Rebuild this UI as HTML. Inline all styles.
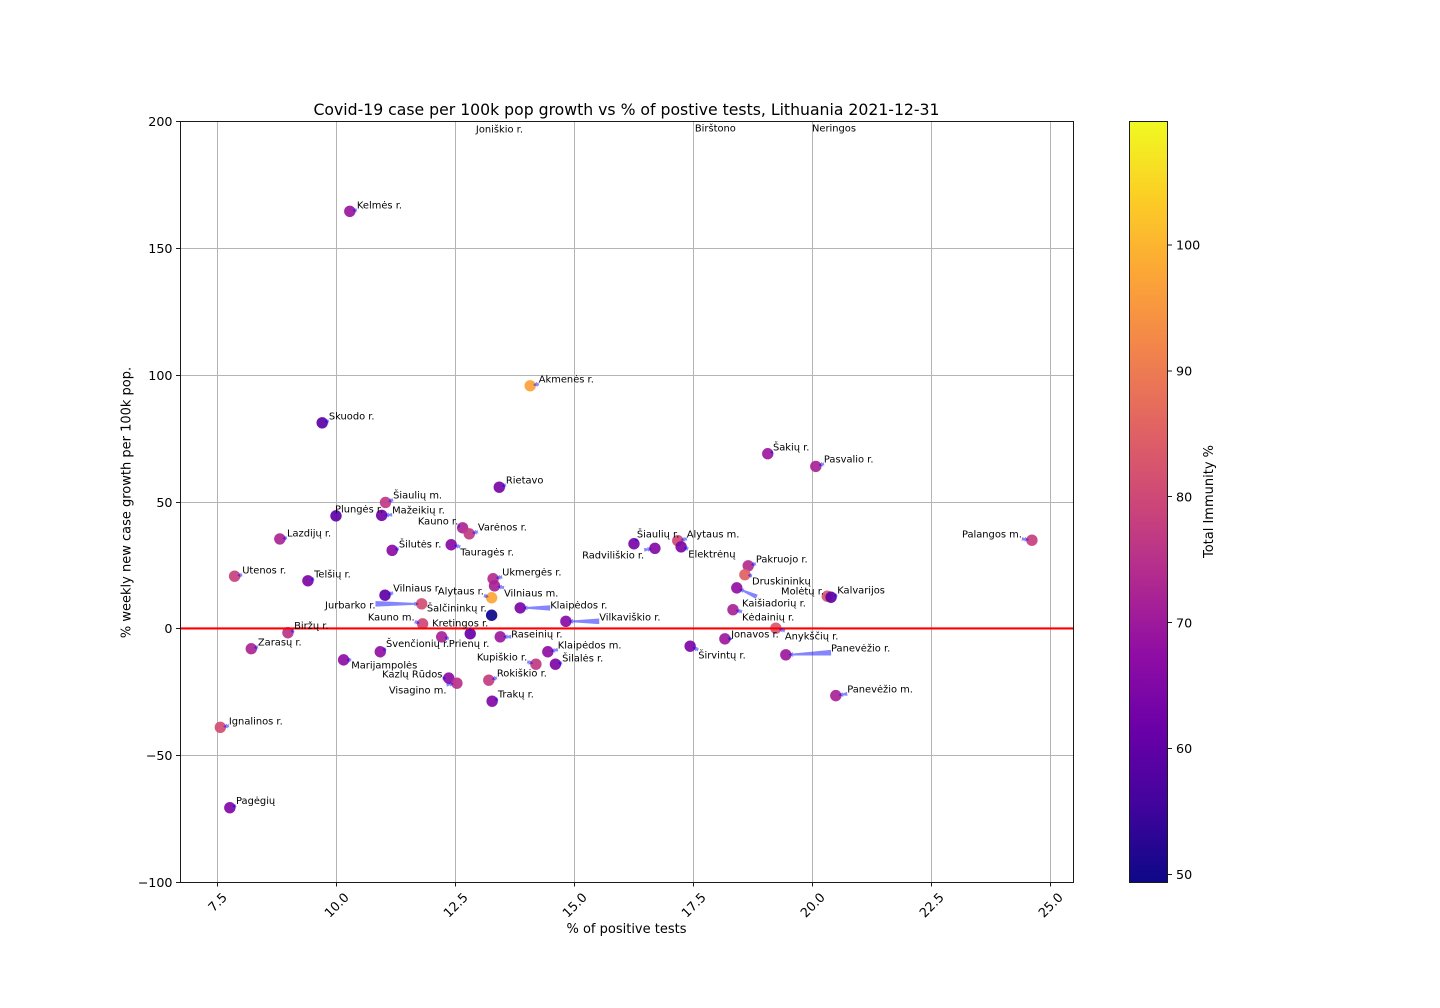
<!DOCTYPE html>
<html lang="lt">
<head>
<meta charset="utf-8">
<title>Covid-19 case growth vs positive tests, Lithuania</title>
<style>
html,body{margin:0;padding:0;background:#fff;}
svg{display:block;}
text{font-family:"DejaVu Sans","Liberation Sans",sans-serif;fill:#000;}
</style>
</head>
<body>
<svg id="chart" xmlns="http://www.w3.org/2000/svg" width="1440" height="1008" viewBox="0 0 1440 1008">
  <defs>
    <clipPath id="axes-clip"><rect x="180" y="121" width="893" height="761"/></clipPath>
    <linearGradient id="plasma-gradient" x1="0" y1="1" x2="0" y2="0"></linearGradient>
  </defs>
  <rect x="0" y="0" width="1440" height="1008" fill="#fff"/>
  <g id="grid" shape-rendering="crispEdges"></g>
  <g id="marks" clip-path="url(#axes-clip)"></g>
  <line id="zero-line" stroke="#ff0000" stroke-width="2.2"/>
  <g id="arrows" clip-path="url(#axes-clip)"></g>
  <g id="labels"></g>
  <rect x="180.5" y="121.5" width="893" height="761" fill="none" stroke="#1a1a1a" stroke-width="1" shape-rendering="crispEdges"/>
  <g id="x-ticks"></g>
  <g id="y-ticks"></g>
  <text x="626.5" y="115" text-anchor="middle" font-size="15.68">Covid-19 case per 100k pop growth vs % of postive tests, Lithuania 2021-12-31</text>
  <text x="626.5" y="933" text-anchor="middle" font-size="13">% of positive tests</text>
  <text transform="translate(130.5,502.5) rotate(-90)" text-anchor="middle" font-size="13">% weekly new case growth per 100k pop.</text>
  <rect x="1129.5" y="121.5" width="38" height="761" fill="url(#plasma-gradient)"/>
  <rect x="1129.5" y="121.5" width="38" height="761" fill="none" stroke="#1a1a1a" stroke-width="1" shape-rendering="crispEdges"/>
  <g id="colorbar-ticks"></g>
  <text transform="translate(1213,501.5) rotate(-90)" text-anchor="middle" font-size="13">Total Immunity %</text>
</svg>
<script>
const names = ["Kelmės r.","Akmenės r.","Skuodo r.","Šakių r.","Pasvalio r.","Rietavo","Šiaulių m.","Plungės r.","Mažeikių r.","Kauno r.","Varėnos r.","Lazdijų r.","Tauragės r.","Šilutės r.","Šiaulių r.","Radviliškio r.","Alytaus m.","Elektrėnų","Utenos r.","Telšių r.","Ukmergės r.","Vilniaus m.","Pakruojo r.","Druskininkų","Vilniaus r.","Alytaus r.","Šalčininkų r.","Jurbarko r.","Klaipėdos r.","Vilkaviškio r.","Kaišiadorių r.","Kėdainių r.","Anykščių r.","Jonavos r.","Širvintų r.","Panevėžio r.","Panevėžio m.","Molėtų r.","Kalvarijos","Palangos m.","Kauno m.","Kretingos r.","Prienų r.","Švenčionių r.","Raseinių r.","Klaipėdos m.","Šilalės r.","Kupiškio r.","Rokiškio r.","Kazlų Rūdos","Visagino m.","Trakų r.","Marijampolės","Zarasų r.","Biržų r.","Ignalinos r.","Pagėgių","Joniškio r.","Birštono","Neringos"];
const positiveTests = [10.29,14.08,9.71,19.07,20.08,13.43,11.04,10.00,10.96,12.66,12.80,8.82,12.42,11.18,16.26,16.70,17.18,17.25,7.87,9.41,13.30,13.33,18.66,18.59,11.03,13.27,13.27,11.80,13.87,14.83,18.42,18.34,19.24,18.17,17.44,19.45,20.50,20.32,20.40,24.62,11.82,12.82,12.22,10.93,13.45,14.45,14.61,14.20,13.21,12.37,12.54,13.28,10.16,8.22,8.99,7.57,7.77,12.85,17.45,19.90];
const caseGrowth = [164.5,95.7,81.1,68.9,63.9,55.7,49.7,44.4,44.6,39.7,37.3,35.3,33.0,30.8,33.4,31.6,34.6,32.2,20.6,18.8,19.6,16.8,24.7,21.2,13.1,12.1,5.2,9.7,8.1,2.8,16.0,7.4,0.1,-4.1,-7.0,-10.4,-26.5,12.7,12.3,34.8,1.8,-2.1,-3.3,-9.2,-3.3,-9.2,-14.1,-14.1,-20.4,-19.6,-21.6,-28.7,-12.4,-8.0,-1.7,-39.0,-70.7,260,280,270];
const immunity = [69.5,97,60,70,72,64,76.6,59.7,62.7,72.4,77,72.4,66.3,67,64,66,80,64.5,78.4,64.5,74,71.7,74,85,59.7,97.7,49.4,81,64.5,66.5,68,72,83,70,64.5,70,72,83,60,78,79.6,61.5,72,68,70,67.5,64.5,77,77.5,67,75,65.5,67.5,72.4,75.4,81,65,70,70,70];
const labelX = [10.44,14.26,9.85,19.18,20.25,13.57,11.20,9.98,11.18,11.72,12.98,8.97,12.61,11.32,16.32,15.17,17.37,17.40,8.03,9.54,13.49,13.53,18.82,18.74,11.20,12.14,11.91,9.77,14.50,15.53,18.53,18.53,19.43,18.30,17.61,20.40,20.74,19.35,20.53,23.15,10.67,12.02,12.37,11.05,13.68,14.66,14.75,12.96,13.38,10.97,11.11,13.40,10.32,8.36,9.12,7.75,7.90,12.94,17.54,20.00];
const labelY = [167.0,98.4,83.8,71.6,66.9,58.6,52.7,47.2,46.8,42.4,40.1,37.7,30.2,33.4,37.3,29.0,37.3,29.4,23.1,21.6,22.3,14.1,27.5,18.8,16.0,14.9,8.1,9.3,9.3,4.6,10.1,4.6,-2.9,-2.1,-10.4,-7.6,-23.8,14.9,15.2,37.3,4.6,2.2,-6.0,-6.0,-2.1,-6.4,-11.6,-11.2,-17.5,-17.9,-24.2,-25.8,-14.3,-5.3,1.1,-36.4,-67.9,197.0,197.4,197.4];
const xTickValues = [7.5,10,12.5,15,17.5,20,22.5,25];
const xTickLabels = ["7.5","10.0","12.5","15.0","17.5","20.0","22.5","25.0"];
const yTickValues = [-100,-50,0,50,100,150,200];
const yTickLabels = ["−100","−50","0","50","100","150","200"];
const colorTickValues = [50,60,70,80,90,100];
const colorTickLabels = ["50","60","70","80","90","100"];
const plasmaStops = ["#0d0887","#41049d","#6a00a8","#8f0da4","#b12a90","#cc4778","#e16462","#f2844b","#fca636","#fcce25","#f0f921"];

const NS = "http://www.w3.org/2000/svg";
const xMin = 6.723, xMax = 25.483, yMin = -100, yMax = 200, cMin = 49.36, cMax = 109.8;
const plot = {left:180, right:1073, top:121.3, bottom:882};
const bar = {left:1129.5, right:1167.5, top:121.5, bottom:882.5};
function xScale(v){ return plot.left + (v - xMin) / (xMax - xMin) * (plot.right - plot.left); }
function yScale(v){ return plot.bottom - (v - yMin) / (yMax - yMin) * (plot.bottom - plot.top); }
function cScale(v){ return bar.bottom - (v - cMin) / (cMax - cMin) * (bar.bottom - bar.top); }
function snap(v){ return Math.round(v) + 0.5; }
function hexRgb(h){ return [1,3,5].map(function(i){ return parseInt(h.substr(i,2),16); }); }
function plasma(t){
  const c = Math.max(0, Math.min(1, t)) * (plasmaStops.length - 1);
  const i = Math.min(Math.floor(c), plasmaStops.length - 2);
  const a = hexRgb(plasmaStops[i]), b = hexRgb(plasmaStops[i + 1]), f = c - i;
  return "rgb(" + a.map(function(v, k){ return Math.round(v + (b[k] - v) * f); }).join(",") + ")";
}
function make(tag, parent, attrs){
  const node = document.createElementNS(NS, tag);
  Object.keys(attrs).forEach(function(k){ node.setAttribute(k, attrs[k]); });
  parent.appendChild(node);
  return node;
}
function slug(s){ return s.toLowerCase().normalize("NFD").replace(/[^a-z0-9]+/g, "-").replace(/^-|-$/g, ""); }

const grid = document.getElementById("grid");
const xTicks = document.getElementById("x-ticks");
const yTicks = document.getElementById("y-ticks");
const marks = document.getElementById("marks");
const arrows = document.getElementById("arrows");
const labels = document.getElementById("labels");
const cTicks = document.getElementById("colorbar-ticks");
const gradient = document.getElementById("plasma-gradient");

for (let s = 0; s <= 60; s++) {
  make("stop", gradient, {offset: (s / 60), "stop-color": plasma(s / 60)});
}

xTickValues.forEach(function(v, i){
  const px = snap(xScale(v));
  const g = make("line", grid, {x1: px, x2: px, y1: plot.top, y2: plot.bottom, stroke: "#b4b4b4", "stroke-width": 1});
  
  
  const t = make("line", xTicks, {x1: px, x2: px, y1: plot.bottom, y2: plot.bottom + 4.4, stroke: "#1a1a1a", "stroke-width": 1, "shape-rendering": "crispEdges"});
  
  
  const l = make("text", xTicks, {"font-size": 12.7, "text-anchor": "middle", "dominant-baseline": "central"});
  l.textContent = xTickLabels[i];
  
  
  const w = l.getComputedTextLength();
  const cy = plot.bottom + 9.5 + (w + 10) * 0.7071 / 2;
  l.setAttribute("x", px);
  l.setAttribute("y", cy);
  l.setAttribute("transform", "rotate(-45 " + px + " " + cy + ")");
});

yTickValues.forEach(function(v, i){
  const py = snap(yScale(v));
  const g = make("line", grid, {x1: plot.left, x2: plot.right, y1: py, y2: py, stroke: "#b4b4b4", "stroke-width": 1});
  
  
  const t = make("line", yTicks, {x1: plot.left - 4, x2: plot.left, y1: py, y2: py, stroke: "#1a1a1a", "stroke-width": 1, "shape-rendering": "crispEdges"});
  
  
  const l = make("text", yTicks, {x: plot.left - 7.5, y: py + 4.3, "font-size": 12.7, "text-anchor": "end"});
  l.textContent = yTickLabels[i];
  
  
});

colorTickValues.forEach(function(v, i){
  const py = cScale(v);
  const t = make("line", cTicks, {x1: bar.right, x2: bar.right + 4.4, y1: py, y2: py, stroke: "#1a1a1a", "stroke-width": 1, "shape-rendering": "crispEdges"});
  
  
  const l = make("text", cTicks, {x: bar.right + 8.5, y: py + 4.7, "font-size": 12.7});
  l.textContent = colorTickLabels[i];
  
  
});

const zero = document.getElementById("zero-line");
zero.setAttribute("x1", plot.left);
zero.setAttribute("x2", plot.right);
zero.setAttribute("y1", yScale(0));
zero.setAttribute("y2", yScale(0));

const tailOverride = {"Kaišiadorių r.": [18.84, 12.5]};

names.forEach(function(name, i){
  const cx = xScale(positiveTests[i]);
  const cy = yScale(caseGrowth[i]);
  const dot = make("circle", marks, {cx: cx, cy: cy, r: 5.7, fill: plasma((immunity[i] - cMin) / (cMax - cMin)), "fill-opacity": 0.92});
  
  

  const lx = xScale(labelX[i]);
  const ly = yScale(labelY[i]);
  const lab = make("text", labels, {x: lx, y: ly + 3.6, "font-size": 9.9});
  lab.textContent = name;
  
  

  if (caseGrowth[i] > yMax) return;

  const w = lab.getComputedTextLength();
  let tx = Math.max(lx, Math.min(lx + w, cx));
  let ty = Math.max(ly - 5, Math.min(ly + 5, cy));
  if (tailOverride[name]) {
    tx = xScale(tailOverride[name][0]);
    ty = yScale(tailOverride[name][1]);
  }
  const dx = cx - tx, dy = cy - ty;
  const len = Math.hypot(dx, dy) || 1;
  const ux = dx / len, uy = dy / len, nx = -uy, ny = ux;
  const tipX = cx - ux * 2.8, tipY = cy - uy * 2.8;
  const shaft = Math.max(len - 2.8, 1);
  const headLen = Math.min(4.5, shaft * 0.75);
  const hx = tipX - ux * headLen, hy = tipY - uy * headLen;
  const w0 = Math.min(2.8, 1.5 + len / 25);
  const pts = [
    [tx + nx * w0, ty + ny * w0],
    [hx + nx * 1.0, hy + ny * 1.0],
    [hx + nx * 2.4, hy + ny * 2.4],
    [tipX, tipY],
    [hx - nx * 2.4, hy - ny * 2.4],
    [hx - nx * 1.0, hy - ny * 1.0],
    [tx - nx * w0, ty - ny * w0]
  ].map(function(p){ return p[0].toFixed(2) + "," + p[1].toFixed(2); }).join(" ");
  const arrow = make("polygon", arrows, {points: pts, fill: "#0000ff", "fill-opacity": 0.48});
  
  
});
</script>
</body>
</html>
